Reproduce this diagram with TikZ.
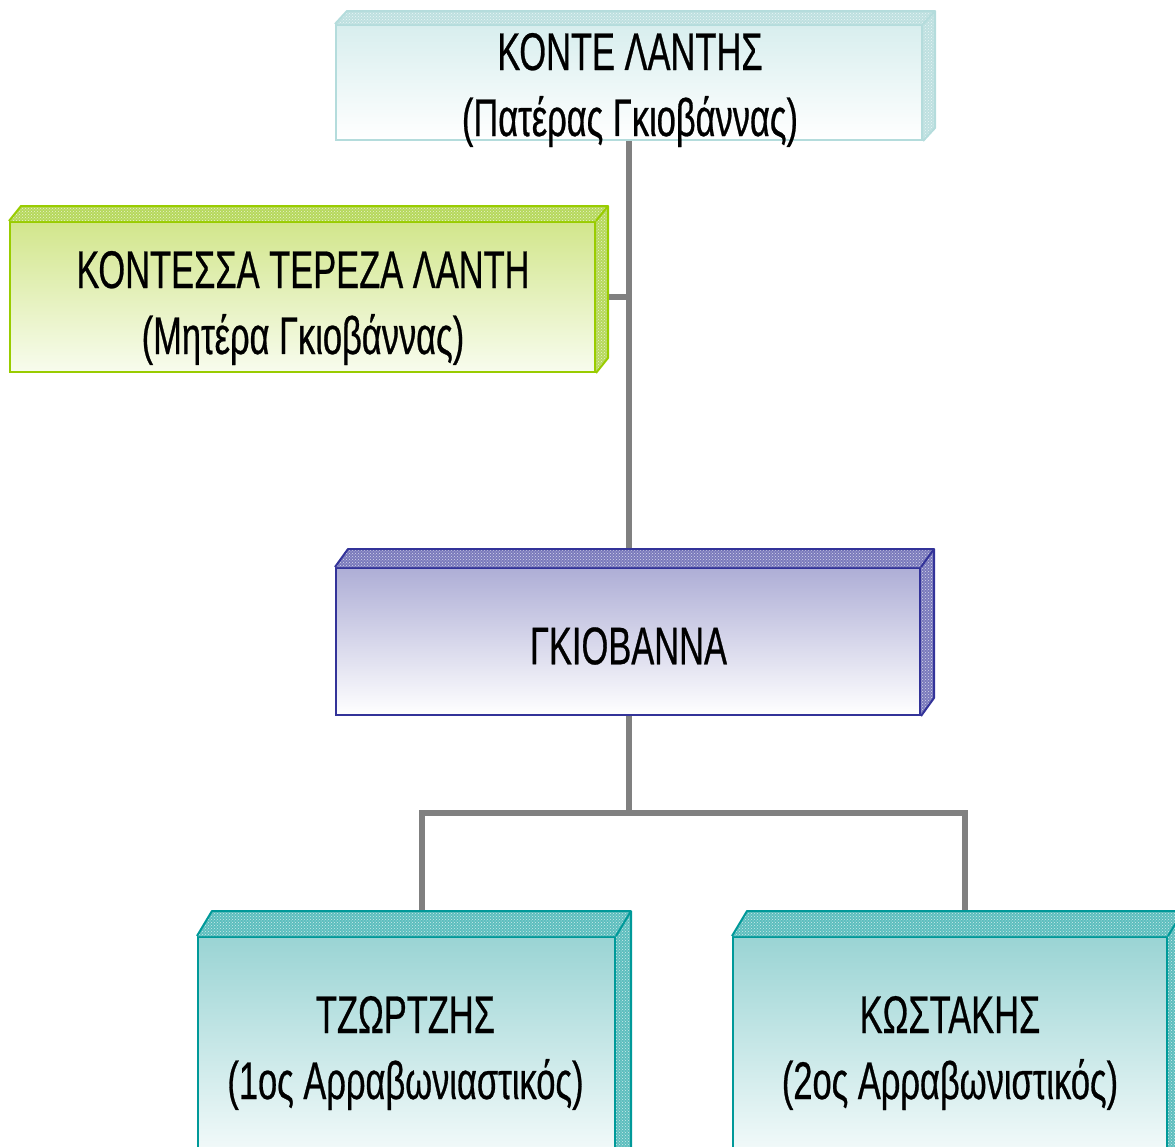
\documentclass[tikz,border=0pt]{standalone}
\usepackage{fontspec}
\newfontfamily\narrowfont{Liberation Sans}[FakeStretch=0.65, FakeBold=0.5]
\usetikzlibrary{patterns,backgrounds}

\definecolor{linkgray}{HTML}{808080}
\definecolor{fatherline}{HTML}{B4DCDC}
\definecolor{fathertop}{HTML}{D8EEEE}
\definecolor{fatherface}{HTML}{BEE0E0}
\definecolor{motherline}{HTML}{99CC00}
\definecolor{mothertop}{HTML}{D2E68C}
\definecolor{motherbottom}{HTML}{F8FCEE}
\definecolor{motherface}{HTML}{B6D85C}
\definecolor{girlline}{HTML}{333399}
\definecolor{girltop}{HTML}{AEAED6}
\definecolor{girlface}{HTML}{7A7ABC}
\definecolor{fianceline}{HTML}{009999}
\definecolor{fiancetop}{HTML}{9AD4D4}
\definecolor{fianceface}{HTML}{5CBEBE}

\tikzstyle{block} = [rectangle, draw, line width=2pt, inner sep=0pt]
\tikzstyle{persontext} = [align=center, font=\narrowfont\fontsize{53}{66}\selectfont]
\tikzstyle{link} = [draw=linkgray, line width=6pt]

% top and right side of a block: node, dx, dy, face colour, line colour
\newcommand{\blockdepth}[5]{
    \fill[fill=#4, postaction={pattern=crosshatch dots, pattern color=white!70!#4}]
        (#1.north west) -- ++(#2,-#3) -- ([shift={(#2,-#3)}]#1.north east)
        -- ([shift={(#2,-#3)}]#1.south east) -- (#1.south east) -- (#1.north east) -- cycle;
    \draw[draw=#5, line width=2pt, line join=round]
        (#1.north west) -- ++(#2,-#3) -- ([shift={(#2,-#3)}]#1.north east)
        -- ([shift={(#2,-#3)}]#1.south east) -- (#1.south east)
        (#1.north east) -- ++(#2,-#3);
}

\begin{document}
\begin{tikzpicture}[x=1pt, y=-1pt]
        \useasboundingbox (0, 0) rectangle (1175, 1146);

        \node[block, draw=fatherline, top color=fathertop, bottom color=white, minimum width=586pt, minimum height=115pt] at (629, 82.5) (lantis) {};
        \node[block, draw=motherline, top color=mothertop, bottom color=motherbottom, minimum width=585pt, minimum height=150pt] at (302.5, 297) (kontessa) {};
        \node[block, draw=girlline, top color=girltop, bottom color=white, minimum width=584pt, minimum height=147pt] at (628, 641.5) (giovanna) {};
        \node[block, draw=fianceline, top color=fiancetop, bottom color=white, minimum width=417pt, minimum height=246pt] at (406.5, 1060) (tzortzis) {};
        \node[block, draw=fianceline, top color=fiancetop, bottom color=white, minimum width=434pt, minimum height=246pt] at (950, 1060) (kostakis) {};

        \blockdepth{lantis}{12}{13}{fatherface}{fatherline}
        \blockdepth{kontessa}{12}{15}{motherface}{motherline}
        \blockdepth{giovanna}{13}{18}{girlface}{girlline}
        \blockdepth{tzortzis}{15}{25}{fianceface}{fianceline}
        \blockdepth{kostakis}{15}{25}{fianceface}{fianceline}

        \node[persontext] at (630, 90) (lantis_text) {ΚΟΝΤΕ ΛΑΝΤΗΣ\\(Πατέρας Γκιοβάννας)};
        \node[persontext] at (303, 308) (kontessa_text) {ΚΟΝΤΕΣΣΑ ΤΕΡΕΖΑ ΛΑΝΤΗ\\(Μητέρα Γκιοβάννας)};
        \node[persontext] at (628.5, 646) (giovanna_text) {ΓΚΙΟΒΑΝΝΑ};
        \node[persontext] at (405.5, 1053) (tzortzis_text) {ΤΖΩΡΤΖΗΣ\\(1ος Αρραβωνιαστικός)};
        \node[persontext] at (950, 1053) (kostakis_text) {ΚΩΣΤΑΚΗΣ\\(2ος Αρραβωνιστικός)};

        \coordinate (fork) at (629, 813);

        \begin{scope}[on background layer]
            \draw[link] (lantis.south) -- (lantis.south |- giovanna.north);
            \draw[link] (kontessa.east) -- (kontessa.east -| lantis.south);
            \draw[link] (giovanna.south -| fork) -- (fork);
            \draw[link] (fork) -| ([xshift=15pt]tzortzis.north);
            \draw[link] (fork) -| ([xshift=15pt]kostakis.north);
        \end{scope}
    \end{tikzpicture}
\end{document}
